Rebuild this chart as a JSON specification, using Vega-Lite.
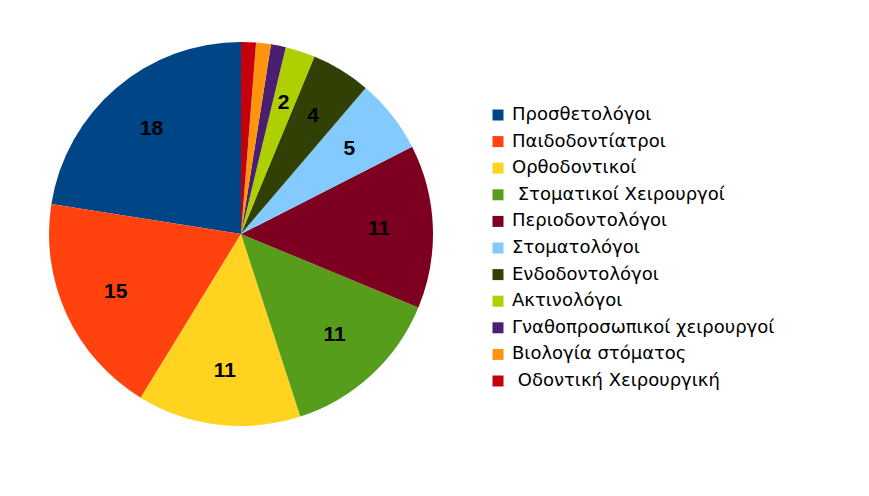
{
  "$schema": "https://vega.github.io/schema/vega-lite/v6.json",
  "width": 482,
  "height": 468,
  "padding": 0,
  "background": "white",
  "data": {
    "values": [
      {"idx": 1, "category": "Προσθετολόγοι", "count": 18},
      {"idx": 2, "category": "Παιδοδοντίατροι", "count": 15},
      {"idx": 3, "category": "Ορθοδοντικοί", "count": 11},
      {"idx": 4, "category": "\u200b\u00a0Στοματικοί Χειρουργοί", "count": 11},
      {"idx": 5, "category": "Περιοδοντολόγοι", "count": 11},
      {"idx": 6, "category": "Στοματολόγοι", "count": 5},
      {"idx": 7, "category": "Ενδοδοντολόγοι", "count": 4},
      {"idx": 8, "category": "Ακτινολόγοι", "count": 2},
      {"idx": 9, "category": "Γναθοπροσωπικοί χειρουργοί", "count": 1},
      {"idx": 10, "category": "Βιολογία στόματος", "count": 1},
      {"idx": 11, "category": "\u200b\u00a0Οδοντική Χειρουργική", "count": 1}
    ]
  },
  "encoding": {
    "theta": {"field": "count", "type": "quantitative", "stack": true},
    "order": {"field": "idx", "type": "quantitative", "sort": "descending"}
  },
  "layer": [
    {
      "mark": {"type": "arc", "outerRadius": 192},
      "encoding": {
        "color": {
          "field": "category",
          "type": "nominal",
          "scale": {
            "domain": ["Προσθετολόγοι", "Παιδοδοντίατροι", "Ορθοδοντικοί", "\u200b\u00a0Στοματικοί Χειρουργοί", "Περιοδοντολόγοι", "Στοματολόγοι", "Ενδοδοντολόγοι", "Ακτινολόγοι", "Γναθοπροσωπικοί χειρουργοί", "Βιολογία στόματος", "\u200b\u00a0Οδοντική Χειρουργική"],
            "range": ["#004586", "#ff420e", "#ffd320", "#579d1c", "#7e0021", "#83caff", "#314004", "#aecf00", "#4b1f6f", "#ff950e", "#c5000b"]
          },
          "legend": {
            "orient": "none",
            "legendX": 489,
            "legendY": 106,
            "title": null,
            "padding": 0,
            "symbolType": "square",
            "symbolSize": 121,
            "symbolStrokeWidth": 0,
            "labelFont": "DejaVu Sans",
            "labelFontSize": 18,
            "labelColor": "black",
            "labelOffset": 5,
            "labelLimit": 400,
            "rowPadding": 8.6
          }
        }
      }
    },
    {
      "mark": {"type": "text", "radius": 138, "font": "Liberation Sans", "fontSize": 21, "fontWeight": "bold", "color": "black"},
      "encoding": {
        "text": {
          "condition": {"test": "datum.count > 1", "field": "count", "type": "quantitative"},
          "value": ""
        }
      }
    }
  ]
}
